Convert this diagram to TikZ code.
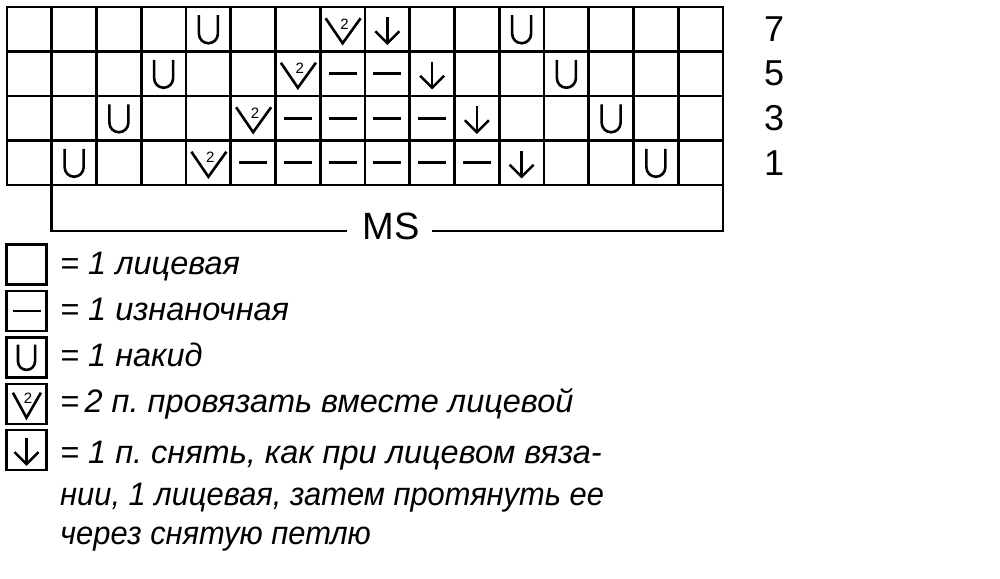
\documentclass[tikz,border=0pt]{standalone}
\usepackage{fontspec}
\setmainfont{Liberation Sans}
\usetikzlibrary{positioning}
\frenchspacing

\begin{document}
\begin{tikzpicture}[
    x=1pt, y=-1pt,
    % Styles
    cell/.style={draw, line width=2.8pt, minimum width=44.75pt, minimum height=44.5pt, inner sep=0pt, outer sep=0pt},
    keybox/.style={draw, line width=2.4pt, minimum width=40pt, minimum height=40pt, inner sep=0pt},
    sym/.style={line width=2.6pt},
    bracket/.style={line width=2.8pt},
    keytext/.style={anchor=base west, inner sep=0pt, font=\fontsize{32.5}{36}\selectfont\itshape},
    rownum/.style={inner sep=0pt, font=\fontsize{36}{40}\selectfont},
    % Symbols
    yo/.pic={\draw[sym] (-9.5,-14) -- (-9.5,4.5) arc[start angle=180, end angle=0, radius=9.5] -- (9.5,-14);},
    purl/.pic={\draw[sym] (-14,0) -- (14,0);},
    ktog/.pic={\draw[sym] (-17,-11) -- (0,14) -- (18,-11);
               \node[inner sep=0pt, font=\fontsize{15}{15}\selectfont] (-two) at (2,-5) {2};},
    skp/.pic={\draw[sym] (0,-12) -- (0,14);
              \draw[sym] (-12,2) -- (0,14) -- (12,2);},
]
\useasboundingbox (0,0) rectangle (1000,578);

% Chart grid
\foreach \r in {0,...,3}
  \foreach \c in {1,...,16}
    \node[cell] (c\r-\c) at ({7+(\c-0.5)*44.75}, {7+(\r+0.5)*44.5}) {};

% Row 7
\pic at (c0-5) {yo};
\pic (d7) at (c0-8) {ktog};
\pic at (c0-9) {skp};
\pic at (c0-12) {yo};

% Row 5
\pic at (c1-4) {yo};
\pic (d5) at (c1-7) {ktog};
\foreach \c in {8,9} \pic at (c1-\c) {purl};
\pic at (c1-10) {skp};
\pic at (c1-13) {yo};

% Row 3
\pic at (c2-3) {yo};
\pic (d3) at (c2-6) {ktog};
\foreach \c in {7,...,10} \pic at (c2-\c) {purl};
\pic at (c2-11) {skp};
\pic at (c2-14) {yo};

% Row 1
\pic at (c3-2) {yo};
\pic (d1) at (c3-5) {ktog};
\foreach \c in {6,...,11} \pic at (c3-\c) {purl};
\pic at (c3-12) {skp};
\pic at (c3-15) {yo};

% Row numbers
\node[rownum] (n7) at (774,29.25) {7};
\node[rownum] (n5) at (774,73.75) {5};
\node[rownum] (n3) at (774,118.25) {3};
\node[rownum] (n1) at (774,162.75) {1};

% Pattern repeat
\node[inner sep=0pt, font=\fontsize{38}{40}\selectfont] (ms) at (391,226) {MS};
\coordinate (msl) at (347,231);
\coordinate (msr) at (432,231);
\draw[bracket] (c3-2.south west) |- (msl);
\draw[bracket] (msr) -| (c3-16.south east);

% Key
\node[keybox] (k1) at (26.5,264.5) {};
\node[keybox, below=4pt of k1] (k2) {};
\node[keybox, below=4pt of k2] (k3) {};
\node[keybox, below=4pt of k3] (k4) {};
\node[keybox, below=4pt of k4] (k5) {};
\pic at (k2) {purl};
\pic[scale=0.9] at (k3) {yo};
\pic[xscale=0.8] (kd) at (k4) {ktog};
\pic at (k5) {skp};

\node[keytext] (t1) at (60,274) {= 1 лицевая};
\node[keytext] (t2) at (60,320) {= 1 изнаночная};
\node[keytext] (t3) at (60,366) {= 1 накид};
\node[keytext] (t4) at (60,412) {=\,2 п. провязать вместе лицевой};
\node[keytext] (t5) at (60,463) {= 1 п. снять, как при лицевом вяза-};
\node[keytext] (t6) at (60,505) {\scalebox{0.95}[1]{нии, 1 лицевая, затем протянуть ее}};
\node[keytext] (t7) at (60,544) {\scalebox{0.95}[1]{через снятую петлю}};

\end{tikzpicture}
\end{document}
